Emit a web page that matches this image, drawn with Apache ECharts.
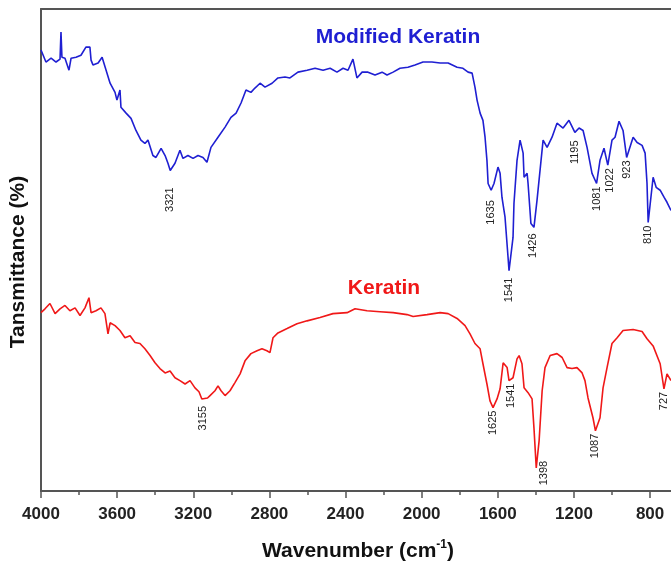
<!DOCTYPE html>
<html>
<head>
<meta charset="utf-8">
<script src="https://cdn.jsdelivr.net/npm/echarts@6/dist/echarts.min.js"></script>
<style>
  html, body { margin: 0; padding: 0; background: #fff; }
  #main { width: 671px; height: 565px; }
</style>
</head>
<body>
<div id="main"></div>
<script>
// FTIR spectra, wavenumber (cm-1) vs transmittance (arbitrary %)
var blueWn = [4000,3974,3947,3921,3900,3895,3890,3874,3853,3842,3816,3790,3764,3743,3737,3727,3700,3679,3658,3637,3611,3601,3585,3580,3553,3527,3501,3475,3454,3438,3412,3396,3369,3348,3333,3321,3296,3270,3254,3228,3201,3175,3149,3128,3107,3070,3033,3002,2975,2949,2923,2897,2876,2849,2823,2786,2755,2718,2692,2650,2602,2560,2518,2481,2445,2413,2387,2361,2340,2313,2282,2245,2208,2182,2150,2114,2072,2035,1993,1946,1903,1861,1814,1783,1756,1735,1720,1709,1693,1678,1667,1657,1651,1635,1620,1599,1588,1578,1562,1546,1541,1520,1515,1499,1483,1467,1462,1446,1441,1426,1410,1394,1362,1341,1315,1289,1257,1226,1195,1173,1152,1131,1105,1081,1063,1042,1022,1000,984,963,942,923,889,868,842,826,816,810,784,768,747,726,711,690];
var blueT = [91.5,89.0,89.8,89.0,89.6,95.2,90.0,89.8,87.3,89.8,90.0,90.4,92.1,92.1,89.4,88.4,88.8,90.0,87.3,84.6,82.7,81.1,83.2,79.6,78.4,77.3,74.8,72.8,72.1,72.8,69.6,69.2,71.1,69.6,68.0,66.5,68.0,70.7,69.0,69.6,69.0,69.6,69.2,68.2,71.3,73.4,75.5,77.5,78.4,80.5,83.2,82.7,83.6,84.6,83.8,84.6,85.7,85.9,85.7,86.9,87.3,87.7,87.3,87.7,86.9,87.7,87.3,89.6,85.7,86.9,86.9,86.3,86.9,86.3,86.9,87.7,87.9,88.4,89.0,89.0,88.8,88.8,87.9,87.7,86.9,86.7,83.8,81.1,78.4,76.9,73.4,68.6,63.8,62.4,63.8,67.2,65.9,60.9,56.8,48.4,45.7,52.6,59.7,68.6,72.8,70.1,65.1,65.9,63.8,55.5,54.7,60.3,72.8,71.3,73.4,76.3,75.3,76.9,74.4,75.3,74.8,71.3,65.9,63.8,68.6,71.1,67.6,72.8,73.4,76.7,74.8,69.2,73.4,72.3,71.7,70.1,63.8,55.7,65.1,63.0,62.4,60.9,59.9,58.2];

var redWn = [4000,3979,3953,3926,3900,3874,3848,3821,3795,3769,3748,3737,3711,3685,3664,3648,3637,3611,3585,3559,3532,3506,3480,3454,3427,3401,3375,3348,3322,3296,3270,3243,3217,3191,3170,3155,3125,3112,3086,3070,3054,3033,3007,2981,2954,2928,2897,2865,2839,2813,2797,2781,2755,2707,2655,2602,2534,2466,2392,2350,2287,2219,2150,2077,2045,1972,1903,1861,1814,1772,1746,1720,1693,1678,1657,1641,1625,1604,1588,1572,1562,1551,1541,1520,1499,1488,1473,1462,1441,1420,1410,1398,1383,1367,1352,1325,1289,1262,1236,1210,1184,1157,1142,1126,1100,1087,1063,1047,1026,1000,973,942,889,842,816,784,747,727,711,690];
var redT = [37.0,37.8,38.9,36.8,37.8,38.5,37.4,38.0,36.4,38.0,40.1,37.0,37.4,38.0,36.8,32.6,34.9,34.3,33.3,31.8,32.2,30.8,30.6,29.5,28.1,26.6,25.4,24.5,24.9,23.5,22.9,22.2,22.9,21.4,20.6,19.1,19.3,19.8,20.8,21.8,20.8,19.8,20.8,22.5,24.3,27.0,28.5,29.1,29.5,29.1,28.7,31.8,32.8,33.7,34.7,35.3,36.0,36.8,37.0,37.8,37.4,37.2,37.0,36.6,36.2,36.6,37.0,36.8,35.8,34.3,32.6,30.6,29.5,26.4,22.2,18.7,17.3,19.1,21.2,26.6,27.0,25.6,22.9,23.5,27.4,28.1,26.4,21.4,20.4,19.1,13.1,4.8,10.4,20.8,25.6,28.1,28.5,27.7,25.6,25.4,25.6,24.5,22.9,19.3,15.2,12.5,15.2,21.4,25.6,30.6,31.8,33.3,33.5,33.1,31.6,30.1,26.4,21.2,24.3,22.9];

var bluePeaks = [3321, 1635, 1541, 1426, 1195, 1081, 1022, 923, 810];
var redPeaks = [3155, 1625, 1541, 1398, 1087, 727];

var majorTicks = [4000, 3600, 3200, 2800, 2400, 2000, 1600, 1200, 800];
var minorTicks = [3800, 3400, 3000, 2600, 2200, 1800, 1400, 1000];

var BLUE = '#1f1fd2';
var RED = '#f01818';
var AXIS = '#555';
var FONT = '"Liberation Sans", Arial, sans-serif';

// small layout tweaks for peak labels: [dx, dy] in px
var labelNudge = {
  blue: {3321: [0, 14], 1635: [0, 7], 1541: [0, 4], 1426: [2, 7], 1195: [0, 5], 1022: [2, 0]},
  red: {3155: [1, 4], 1541: [2, 0], 1398: [8, -10]}
};

function pairs(xs, ys) {
  var out = [];
  for (var i = 0; i < xs.length; i++) out.push([xs[i], ys[i]]);
  return out;
}

var chart = echarts.init(document.getElementById('main'));

var option = {
  animation: false,
  grid: { left: 41, right: 0, top: 9, bottom: 74 },
  xAxis: [
    {
      type: 'value', inverse: true, min: 690, max: 4000,
      axisLine: { show: true, onZero: false, lineStyle: { color: AXIS, width: 2 } },
      axisTick: { show: true, inside: false, length: 7, customValues: majorTicks, lineStyle: { color: AXIS, width: 1.5 } },
      axisLabel: {
        show: true, customValues: majorTicks, margin: 15, color: '#222', fontSize: 17, fontWeight: 'bold', fontFamily: FONT,
        formatter: function (v) { return String(v); }
      },
      splitLine: { show: false }
    },
    {
      type: 'value', inverse: true, min: 690, max: 4000, position: 'bottom',
      axisLine: { show: false },
      axisTick: { show: true, inside: false, length: 4, customValues: minorTicks, lineStyle: { color: AXIS, width: 1.5 } },
      axisLabel: { show: false },
      splitLine: { show: false }
    },
    {
      type: 'value', inverse: true, min: 690, max: 4000, position: 'top',
      axisLine: { show: true, onZero: false, lineStyle: { color: AXIS, width: 2 } },
      axisTick: { show: false }, axisLabel: { show: false }, splitLine: { show: false }
    }
  ],
  yAxis: {
    type: 'value', min: 0, max: 100,
    axisLine: { show: true, onZero: false, lineStyle: { color: AXIS, width: 2 } },
    axisTick: { show: false }, axisLabel: { show: false }, splitLine: { show: false }
  },
  series: [
    {
      name: 'Modified Keratin', type: 'line', xAxisIndex: 0, showSymbol: false,
      data: pairs(blueWn, blueT), lineStyle: { color: BLUE, width: 1.6 }, itemStyle: { color: BLUE }
    },
    {
      name: 'Keratin', type: 'line', xAxisIndex: 0, showSymbol: false,
      data: pairs(redWn, redT), lineStyle: { color: RED, width: 1.6 }, itemStyle: { color: RED }
    }
  ]
};
chart.setOption(option);

function nearestT(xs, ys, wn) {
  var best = 0;
  for (var i = 1; i < xs.length; i++) {
    if (Math.abs(xs[i] - wn) < Math.abs(xs[best] - wn)) best = i;
  }
  return ys[best];
}

var graphics = [];
function addPeakLabels(peaks, xs, ys, nudge) {
  peaks.forEach(function (wn) {
    var p = chart.convertToPixel({ xAxisIndex: 0, yAxisIndex: 0 }, [wn, nearestT(xs, ys, wn)]);
    var d = nudge[wn] || [0, 0];
    graphics.push({
      type: 'text', x: p[0] + d[0], y: p[1] + 3 + d[1], rotation: Math.PI / 2,
      style: { text: String(wn), fill: '#222', fontSize: 11, fontFamily: FONT, align: 'right', verticalAlign: 'middle' }
    });
  });
}
addPeakLabels(bluePeaks, blueWn, blueT, labelNudge.blue);
addPeakLabels(redPeaks, redWn, redT, labelNudge.red);

graphics.push({
  type: 'text', x: 398, y: 37,
  style: { text: 'Modified Keratin', fill: BLUE, fontSize: 21, fontWeight: 'bold', fontFamily: FONT, align: 'center', verticalAlign: 'middle' }
});
graphics.push({
  type: 'text', x: 384, y: 288,
  style: { text: 'Keratin', fill: RED, fontSize: 21, fontWeight: 'bold', fontFamily: FONT, align: 'center', verticalAlign: 'middle' }
});
graphics.push({
  type: 'text', x: 18, y: 262, rotation: Math.PI / 2,
  style: { text: 'Tansmittance (%)', fill: '#111', fontSize: 21, fontWeight: 'bold', fontFamily: FONT, align: 'center', verticalAlign: 'middle' }
});
graphics.push({
  type: 'text', x: 358, y: 551,
  style: {
    text: '{a|Wavenumber (cm}{s|-1}{a|)}', align: 'center', verticalAlign: 'middle',
    rich: {
      a: { fill: '#111', fontSize: 21, fontWeight: 'bold', fontFamily: FONT, lineHeight: 24 },
      s: { fill: '#111', fontSize: 12, fontWeight: 'bold', fontFamily: FONT, verticalAlign: 'top', lineHeight: 24 }
    }
  }
});

chart.setOption({ graphic: graphics });
</script>
</body>
</html>
